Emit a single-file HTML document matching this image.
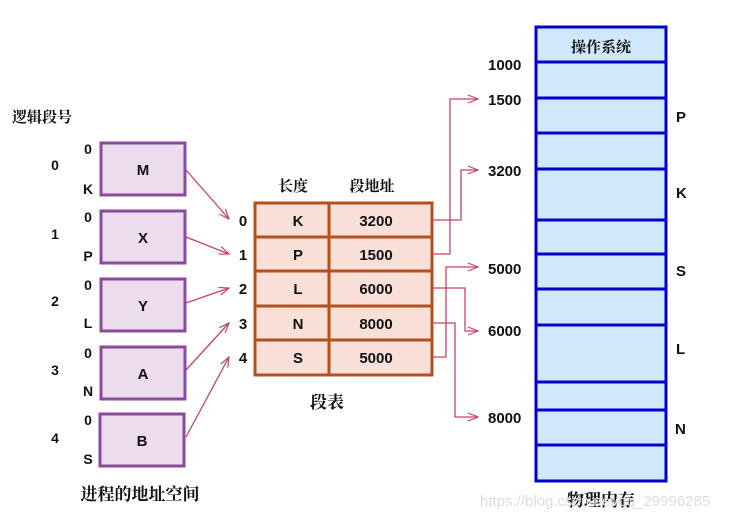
<!DOCTYPE html>
<html><head><meta charset="utf-8"><style>
body{margin:0;background:#fff;width:731px;height:521px;overflow:hidden}
text{font-family:"Liberation Sans","Noto Sans CJK SC",sans-serif;font-weight:bold;fill:#111}
.cj{font-family:"Noto Serif CJK SC","Noto Sans CJK SC",serif;font-weight:bold}
</style></head><body>
<svg width="731" height="521" xmlns="http://www.w3.org/2000/svg">
<defs><marker id="a" markerWidth="12" markerHeight="10" refX="11" refY="5" orient="auto" markerUnits="userSpaceOnUse"><path d="M1,1 L11,5 L1,9" fill="none" stroke="#c8426f" stroke-width="1.2"/></marker></defs>
<!-- memory -->
<rect x="536" y="27" width="130" height="454" fill="#cfe8fb" stroke="#0000c8" stroke-width="3"/>
<g stroke="#0000c8" stroke-width="3">
<line x1="536" x2="666" y1="62" y2="62"/><line x1="536" x2="666" y1="98" y2="98"/><line x1="536" x2="666" y1="133" y2="133"/><line x1="536" x2="666" y1="169" y2="169"/><line x1="536" x2="666" y1="220" y2="220"/><line x1="536" x2="666" y1="254" y2="254"/><line x1="536" x2="666" y1="289" y2="289"/><line x1="536" x2="666" y1="325" y2="325"/><line x1="536" x2="666" y1="382" y2="382"/><line x1="536" x2="666" y1="410" y2="410"/><line x1="536" x2="666" y1="445" y2="445"/>
</g>
<text x="601" y="52" class="cj" font-size="15" text-anchor="middle">操作系统</text>
<g font-size="15">
<text x="488" y="70">1000</text><text x="488" y="105">1500</text><text x="488" y="176">3200</text><text x="488" y="274">5000</text><text x="488" y="336">6000</text><text x="488" y="423">8000</text>
<text x="676" y="122">P</text><text x="676" y="198">K</text><text x="676" y="276">S</text><text x="676" y="354">L</text><text x="675" y="434">N</text>
</g>
<text x="601" y="506" class="cj" font-size="17" text-anchor="middle">物理内存</text>
<text x="480" y="506" font-size="15" style="font-weight:normal;fill:#ddd">https://blog.csdn.net/qq_29996285</text>
<!-- table -->
<rect x="255" y="203" width="177" height="172" fill="#f8e0d8" stroke="#b5501e" stroke-width="3"/>
<g stroke="#b5501e" stroke-width="3"><line x1="329" x2="329" y1="203" y2="375"/><line x1="255" x2="432" y1="237" y2="237"/><line x1="255" x2="432" y1="271" y2="271"/><line x1="255" x2="432" y1="306" y2="306"/><line x1="255" x2="432" y1="340" y2="340"/></g>
<g font-size="15" text-anchor="middle">
<text x="298" y="226">K</text><text x="298" y="260">P</text><text x="298" y="294">L</text><text x="298" y="329">N</text><text x="298" y="363">S</text>
<text x="376" y="226">3200</text><text x="376" y="260">1500</text><text x="376" y="294">6000</text><text x="376" y="329">8000</text><text x="376" y="363">5000</text>
<text x="243" y="226">0</text><text x="243" y="260">1</text><text x="243" y="294">2</text><text x="243" y="329">3</text><text x="243" y="363">4</text>
</g>
<text x="293" y="191" class="cj" font-size="15" text-anchor="middle">长度</text>
<text x="372" y="191" class="cj" font-size="15" text-anchor="middle">段地址</text>
<text x="327" y="408" class="cj" font-size="17" text-anchor="middle">段表</text>
<!-- table arrows -->
<g fill="none" stroke="#c8426f" stroke-width="1.3" marker-end="url(#a)">
<path d="M432,220 H461 V170 H478"/><path d="M432,254 H450 V99 H478"/><path d="M432,288 H465 V331 H478"/><path d="M432,323 H455 V417 H478"/><path d="M432,357 H446 V267 H478"/>
<path d="M186,170 L229,219"/><path d="M186,237 L229,254"/><path d="M186,303 L229,288"/><path d="M186,370 L229,323"/><path d="M186,437 L229,357"/>
</g>
<!-- process -->
<g fill="#eddcee" stroke="#8b4a9c" stroke-width="3">
<rect x="101" y="143" width="84" height="52"/><rect x="101" y="211" width="84" height="52"/><rect x="101" y="279" width="84" height="52"/><rect x="101" y="347" width="84" height="52"/><rect x="100" y="414" width="84" height="52"/>
</g>
<g font-size="15" text-anchor="middle">
<text x="143" y="175">M</text><text x="143" y="243">X</text><text x="143" y="311">Y</text><text x="143" y="379">A</text><text x="142" y="446">B</text>
</g>
<g font-size="14" text-anchor="middle">
<text x="88" y="154">0</text><text x="88" y="194">K</text><text x="88" y="222">0</text><text x="88" y="261">P</text><text x="88" y="290">0</text><text x="88" y="328">L</text><text x="88" y="358">0</text><text x="88" y="396">N</text><text x="88" y="425">0</text><text x="88" y="464">S</text>
<text x="55" y="170">0</text><text x="55" y="239">1</text><text x="55" y="306">2</text><text x="55" y="375">3</text><text x="55" y="443">4</text>
</g>
<text x="12" y="122" class="cj" font-size="15">逻辑段号</text>
<text x="140" y="500" class="cj" font-size="17" text-anchor="middle">进程的地址空间</text>
</svg>
</body></html>
